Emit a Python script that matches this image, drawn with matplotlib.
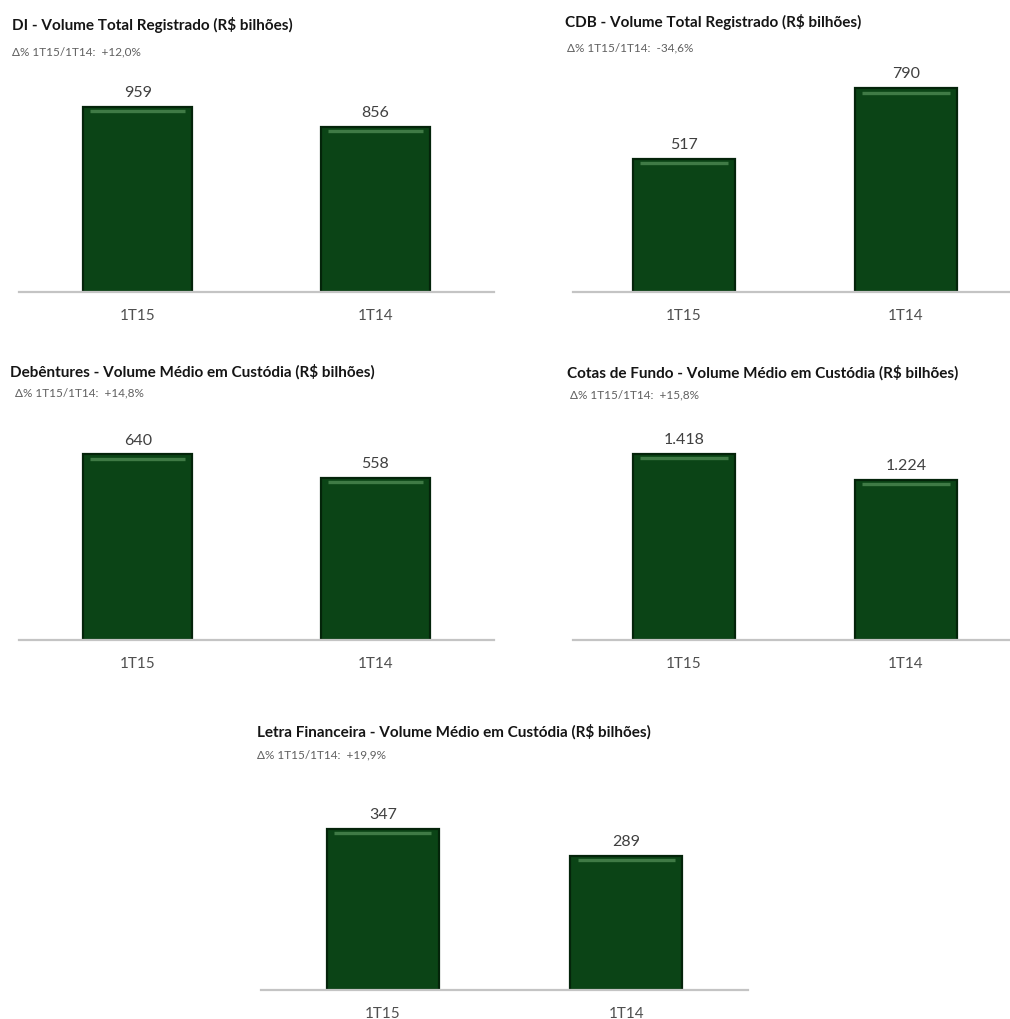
import matplotlib
matplotlib.use("Agg")
import matplotlib.pyplot as plt
from matplotlib.transforms import ScaledTranslation

plt.rcParams['font.family'] = ['Lato', 'DejaVu Sans']

categories = ["1T15", "1T14"]
titles = [
    "DI - Volume Total Registrado (R$ bilhões)",
    "CDB - Volume Total Registrado (R$ bilhões)",
    "Debêntures - Volume Médio em Custódia (R$ bilhões)",
    "Cotas de Fundo - Volume Médio em Custódia (R$ bilhões)",
    "Letra Financeira - Volume Médio em Custódia (R$ bilhões)",
]
subtitles = [
    "Δ% 1T15/1T14:  +12,0%",
    "Δ% 1T15/1T14:  -34,6%",
    "Δ% 1T15/1T14:  +14,8%",
    "Δ% 1T15/1T14:  +15,8%",
    "Δ% 1T15/1T14:  +19,9%",
]
di_values = [959, 856]
cdb_values = [517, 790]
debentures_values = [640, 558]
cotas_values = [1418, 1224]
letra_values = [347, 289]
series = [di_values, cdb_values, debentures_values, cotas_values, letra_values]

# layout (pixels): axes left, width, baseline, y-axis max, title pos, subtitle pos
W, H = 1010, 1019
layout = [
    dict(l=19, w=475, base=292, ymax=1200, tx=12, ty=25, sx=12, sy=52),
    dict(l=573, w=444, base=292, ymax=900, tx=565, ty=22, sx=567, sy=48),
    dict(l=19, w=475, base=640, ymax=800, tx=10, ty=372, sx=15, sy=393),
    dict(l=573, w=444, base=640, ymax=1770, tx=567, ty=373, sx=570, sy=395),
    dict(l=261, w=487, base=990, ymax=500, tx=257, ty=732, sx=257, sy=755),
]
AX_H = 232

fig = plt.figure(figsize=(W / 100, H / 100), dpi=100)
fig.patch.set_facecolor("white")

face = "#0b4416"
edge = "#04240a"
highlight = "#3f7a45"

for vals, lay, title, sub in zip(series, layout, titles, subtitles):
    ax = fig.add_axes([lay["l"] / W, 1 - lay["base"] / H, lay["w"] / W, AX_H / H])
    ax.set_xlim(-0.5, 1.5)
    ax.set_ylim(0, lay["ymax"])
    x = list(range(len(categories)))
    bw = 0.46
    ax.bar(x, vals, width=bw, color=face, edgecolor=edge, linewidth=1.6, zorder=2)
    off = ax.transData + ScaledTranslation(0, -3.0 / 72, fig.dpi_scale_trans)
    for xi, v in zip(x, vals):
        ax.plot([xi - bw / 2 + 0.03, xi + bw / 2 - 0.03], [v, v], color=highlight,
                linewidth=2.4, transform=off, zorder=3, solid_capstyle="butt")
        ax.annotate(f"{v:,}".replace(",", "."), (xi, v), xytext=(0, 10),
                    textcoords="offset points", ha="center", va="center",
                    fontsize=11.5, color="#404040")
    for s in ["top", "left", "right"]:
        ax.spines[s].set_visible(False)
    ax.spines["bottom"].set_color("#c4c4c4")
    ax.spines["bottom"].set_linewidth(1.6)
    ax.set_yticks([])
    ax.set_xticks(x)
    ax.set_xticklabels(categories, fontsize=11, color="#505050")
    ax.tick_params(axis="x", length=0, pad=12)
    ax.patch.set_alpha(0)

    fig.text(lay["tx"] / W, 1 - lay["ty"] / H, title, fontsize=11, fontweight="bold",
             color="#151515", ha="left", va="center")
    fig.text(lay["sx"] / W, 1 - lay["sy"] / H, sub, fontsize=8.5, color="#606060",
             ha="left", va="center")

fig.savefig("out.png", dpi=100, facecolor="white")
